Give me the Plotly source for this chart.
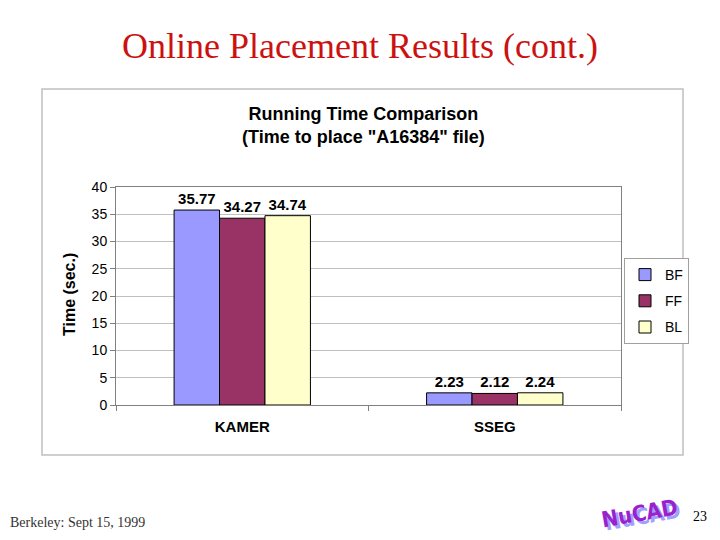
import plotly.graph_objects as go

categories = ["KAMER", "SSEG"]
series_names = ["BF", "FF", "BL"]
bf_values = [35.77, 2.23]
ff_values = [34.27, 2.12]
bl_values = [34.74, 2.24]
series_values = [bf_values, ff_values, bl_values]
series_colors = ["#9999FF", "#993366", "#FFFFCC"]
y_ticks = [0, 5, 10, 15, 20, 25, 30, 35, 40]

W, H = 720, 540
SANS = "Liberation Sans, Arial, sans-serif"
SERIF = "Liberation Serif, Times New Roman, serif"

def px(x):
    return x / W

def py(y):
    return 1 - y / H

fig = go.Figure()
for i, (name, vals, col) in enumerate(zip(series_names, series_values, series_colors)):
    fig.add_trace(go.Bar(
        x=categories, y=vals, name=name, legendgroup=name,
        marker=dict(color=col, line=dict(color="#000000", width=1)),
        text=[f"{v:.2f}" for v in vals], textposition="outside",
        textfont=dict(family=SANS, size=15, color="#000000", weight="bold"),
        cliponaxis=False,
    ))

fig.update_layout(
    width=W, height=H, autosize=False,
    margin=dict(l=0, r=0, t=0, b=0, autoexpand=False),
    paper_bgcolor="#FFFFFF", plot_bgcolor="#FFFFFF",
    barmode="group", bargap=0.46, bargroupgap=0,
    showlegend=True,
    legend=dict(
        x=px(624), y=py(258), xanchor="left", yanchor="top",
        bordercolor="#A0A0A0", borderwidth=1, bgcolor="#FFFFFF",
        font=dict(family=SANS, size=14, color="#000000"),
        tracegroupgap=5, itemwidth=30,
    ),
    xaxis=dict(
        domain=[px(116), px(621)], type="category",
        showline=True, linecolor="#808080", linewidth=1, mirror=True,
        ticks="outside", tickson="boundaries", ticklen=5, tickcolor="#808080",
        tickfont=dict(family=SANS, size=15, color="#000000", weight="bold"),
        ticklabelstandoff=8, automargin=False,
        showgrid=False,
    ),
    yaxis=dict(
        domain=[py(405), py(187)], range=[0, 40], tickvals=y_ticks,
        showline=True, linecolor="#808080", linewidth=1, mirror=True,
        ticks="outside", ticklen=5, tickcolor="#808080",
        tickfont=dict(family=SANS, size=14, color="#000000"),
        showgrid=True, gridcolor="#C0C0C0", gridwidth=1,
        zeroline=False, automargin=False,
    ),
)

# chart-area frame
fig.add_shape(type="rect", xref="paper", yref="paper",
              x0=px(42), x1=px(683), y0=py(455), y1=py(89),
              line=dict(color="#C0C0C0", width=1.5), fillcolor="rgba(0,0,0,0)", layer="below")

LOGO = "DejaVu Sans Condensed, sans-serif"
annotations = [
    dict(text="Online Placement Results (cont.)", x=px(360), y=py(46),
         font=dict(family=SERIF, size=36, color="#CC1111")),
    dict(text="<b>Running Time Comparison</b><br><b>(Time to place \"A16384\" file)</b>",
         x=px(363), y=py(125),
         font=dict(family=SANS, size=18, color="#000000")),
    dict(text="<b>Time (sec.)</b>", x=px(69), y=py(295), textangle=-90,
         font=dict(family=SANS, size=16, color="#000000")),
    dict(text="Berkeley: Sept 15, 1999", x=px(8), y=py(522), xanchor="left",
         font=dict(family=SERIF, size=14, color="#333333")),
    dict(text="23", x=px(700), y=py(516),
         font=dict(family=SERIF, size=14, color="#000000")),
    dict(text="<b>NuCAD</b>", x=px(642), y=py(516),
         font=dict(family=LOGO, size=22, color="#A0A0FF"),
         textangle=-10),
    dict(text="<b>NuCAD</b>", x=px(639), y=py(513),
         font=dict(family=LOGO, size=22, color="#9922CC"),
         textangle=-10),
]
for a in annotations:
    a.setdefault("xref", "paper")
    a.setdefault("yref", "paper")
    a.setdefault("showarrow", False)
    a.setdefault("xanchor", "center")
    a.setdefault("yanchor", "middle")
    fig.add_annotation(**a)

fig.write_html("out.html", config={"displayModeBar": False},
               post_script="document.body.style.margin='0';document.body.style.overflow='hidden';")
